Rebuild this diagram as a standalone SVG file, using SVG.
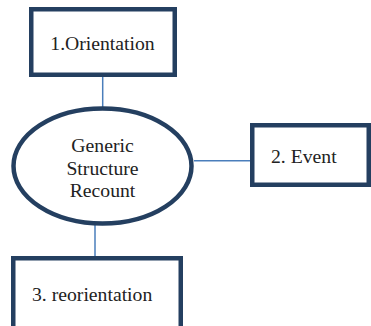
<svg xmlns="http://www.w3.org/2000/svg" width="371" height="326" viewBox="0 0 371 326">
<style>
.box{fill:#fff;stroke:#243f60;stroke-width:4.5}
.conn{stroke:#4a7ebb;stroke-width:1.5;fill:none}
.t{font-family:"Liberation Serif","Times New Roman",serif;font-size:19.7px;fill:#222}
</style>
<rect width="371" height="326" fill="#fff"/>
<g id="connectors">
<line class="conn" x1="102.7" y1="76" x2="102.7" y2="108"/>
<line class="conn" x1="194" y1="160.7" x2="251" y2="160.7"/>
<line class="conn" x1="95" y1="224" x2="95" y2="257"/>
</g>
<g id="orientation">
<rect class="box" x="31.25" y="9.25" width="143.5" height="65.5"/>
<text class="t" x="102.5" y="50" text-anchor="middle">1.Orientation</text>
</g>
<g id="generic">
<ellipse class="box" cx="102.5" cy="166" rx="89" ry="57.5"/>
<text class="t" x="102.5" y="151.7" text-anchor="middle">Generic</text>
<text class="t" x="102.5" y="175" text-anchor="middle">Structure</text>
<text class="t" x="102.5" y="197.3" text-anchor="middle">Recount</text>
</g>
<g id="event">
<rect class="box" x="252.25" y="125.25" width="116.5" height="59.5"/>
<text class="t" x="271" y="163">2. Event</text>
</g>
<g id="reorientation">
<rect class="box" x="13.25" y="258.25" width="167.5" height="80"/>
<text class="t" x="32" y="301">3. reorientation</text>
</g>
</svg>
